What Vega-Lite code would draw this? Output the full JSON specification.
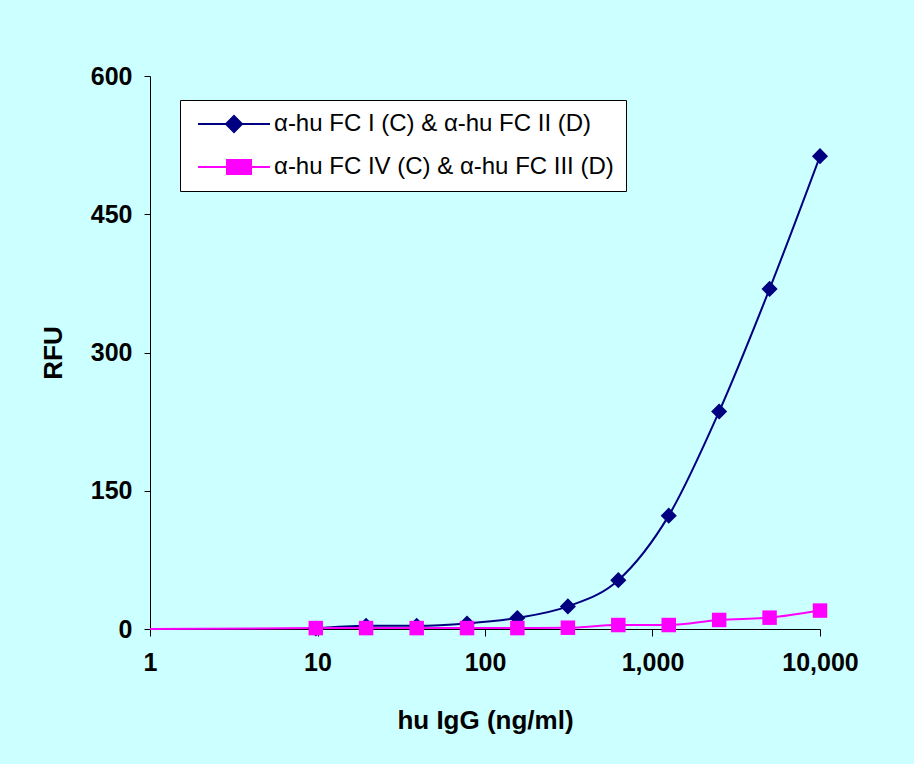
{
  "$schema": "https://vega.github.io/schema/vega-lite/v6.json",
  "width": 670,
  "height": 553,
  "autosize": {"type": "none"},
  "padding": {"left": 150, "top": 76, "right": 94, "bottom": 135},
  "background": "#CCFFFF",
  "config": {
    "view": {"stroke": null},
    "font": "Liberation Sans",
    "axis": {
      "grid": false,
      "domainColor": "#000000",
      "tickColor": "#000000",
      "labelFont": "Liberation Sans",
      "labelFontWeight": "bold",
      "labelFontSize": 25,
      "labelColor": "#000000",
      "titleFont": "Liberation Sans",
      "titleFontWeight": "bold",
      "titleFontSize": 26,
      "titleColor": "#000000"
    }
  },
  "data": {
    "values": [
      {"series": "α-hu FC I (C) & α-hu FC II (D)", "conc": 9.77, "rfu": 0.5},
      {"series": "α-hu FC I (C) & α-hu FC II (D)", "conc": 19.5, "rfu": 3.5},
      {"series": "α-hu FC I (C) & α-hu FC II (D)", "conc": 39.1, "rfu": 3.5},
      {"series": "α-hu FC I (C) & α-hu FC II (D)", "conc": 78.1, "rfu": 6},
      {"series": "α-hu FC I (C) & α-hu FC II (D)", "conc": 156, "rfu": 12},
      {"series": "α-hu FC I (C) & α-hu FC II (D)", "conc": 312.5, "rfu": 24.5},
      {"series": "α-hu FC I (C) & α-hu FC II (D)", "conc": 625, "rfu": 53},
      {"series": "α-hu FC I (C) & α-hu FC II (D)", "conc": 1250, "rfu": 123},
      {"series": "α-hu FC I (C) & α-hu FC II (D)", "conc": 2500, "rfu": 236},
      {"series": "α-hu FC I (C) & α-hu FC II (D)", "conc": 5000, "rfu": 369},
      {"series": "α-hu FC I (C) & α-hu FC II (D)", "conc": 10000, "rfu": 513},
      {"series": "α-hu FC IV (C) & α-hu FC III (D)", "conc": 1, "rfu": 0},
      {"series": "α-hu FC IV (C) & α-hu FC III (D)", "conc": 9.77, "rfu": 1},
      {"series": "α-hu FC IV (C) & α-hu FC III (D)", "conc": 19.5, "rfu": 1},
      {"series": "α-hu FC IV (C) & α-hu FC III (D)", "conc": 39.1, "rfu": 1},
      {"series": "α-hu FC IV (C) & α-hu FC III (D)", "conc": 78.1, "rfu": 1},
      {"series": "α-hu FC IV (C) & α-hu FC III (D)", "conc": 156, "rfu": 1},
      {"series": "α-hu FC IV (C) & α-hu FC III (D)", "conc": 312.5, "rfu": 1.4},
      {"series": "α-hu FC IV (C) & α-hu FC III (D)", "conc": 625, "rfu": 4.3},
      {"series": "α-hu FC IV (C) & α-hu FC III (D)", "conc": 1250, "rfu": 4.3},
      {"series": "α-hu FC IV (C) & α-hu FC III (D)", "conc": 2500, "rfu": 9.8},
      {"series": "α-hu FC IV (C) & α-hu FC III (D)", "conc": 5000, "rfu": 12.3},
      {"series": "α-hu FC IV (C) & α-hu FC III (D)", "conc": 10000, "rfu": 20}
    ]
  },
  "encoding": {
    "x": {
      "field": "conc",
      "type": "quantitative",
      "scale": {"type": "log", "domain": [1, 10000], "nice": false},
      "axis": {
        "values": [1, 10, 100, 1000, 10000],
        "format": ",",
        "tickSize": 7,
        "labelPadding": 14,
        "title": "hu IgG (ng/ml)",
        "titlePadding": 32,
        "labelFlush": false,
        "labelOverlap": false
      }
    },
    "y": {
      "field": "rfu",
      "type": "quantitative",
      "scale": {"domain": [0, 600], "nice": false},
      "axis": {
        "values": [0, 150, 300, 450, 600],
        "tickSize": 6,
        "labelPadding": 12,
        "title": "RFU",
        "titlePadding": 24
      }
    },
    "color": {
      "field": "series",
      "type": "nominal",
      "scale": {
        "domain": ["α-hu FC I (C) & α-hu FC II (D)", "α-hu FC IV (C) & α-hu FC III (D)"],
        "range": ["#000080", "#FF00FF"]
      }
    }
  },
  "layer": [
    {
      "mark": {"type": "line", "interpolate": "monotone", "strokeWidth": 2},
      "encoding": {
        "color": {
          "field": "series",
          "type": "nominal",
          "legend": {
            "orient": "none",
            "legendX": 30,
            "legendY": 24,
            "title": null,
            "fillColor": "#FFFFFF",
            "strokeColor": "#000000",
            "padding": 12,
            "rowPadding": 19,
            "symbolSize": 400,
            "symbolStrokeWidth": 2,
            "labelFontSize": 24,
            "labelFont": "Liberation Sans",
            "labelColor": "#000000",
            "labelOffset": 58,
            "labelLimit": 500,
            "encode": {
              "symbols": {
                "update": {
                  "shape": {"signal": "indexof(datum.value, 'IV') >= 0 ? 'M-0.6,0L6.6,0M2.3,-0.7L4.7,-0.7L4.7,0.7L2.3,0.7Z' : 'M-0.6,0L6.6,0M3,-0.8L3.8,0L3,0.8L2.2,0Z'"},
                  "fill": {"scale": "color", "field": "value"},
                  "stroke": {"scale": "color", "field": "value"},
                  "strokeWidth": {"value": 2},
                  "opacity": {"value": 1}
                }
              }
            }
          }
        }
      }
    },
    {
      "transform": [{"filter": "datum.conc >= 5"}],
      "mark": {"type": "point", "filled": true, "opacity": 1},
      "encoding": {
        "shape": {
          "condition": {"test": "indexof(datum.series, 'IV') >= 0", "value": "square"},
          "value": "diamond"
        },
        "size": {
          "condition": {"test": "indexof(datum.series, 'IV') >= 0", "value": 210},
          "value": 260
        },
        "color": {"field": "series", "type": "nominal", "legend": null}
      }
    }
  ]
}
